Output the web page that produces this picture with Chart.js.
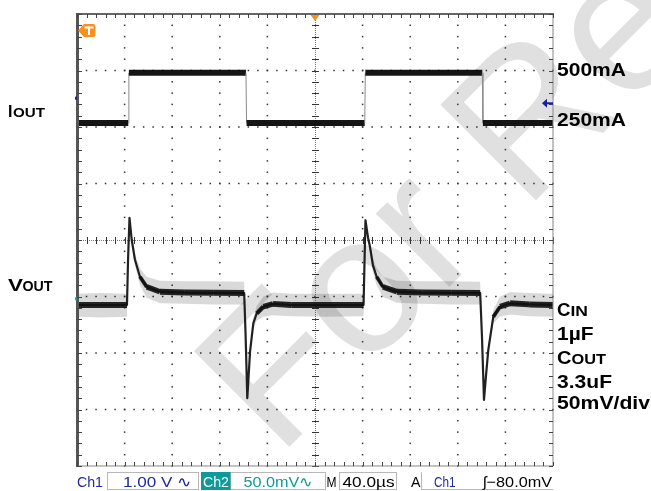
<!DOCTYPE html>
<html><head><meta charset="utf-8">
<script src="https://cdn.jsdelivr.net/npm/chart.js@4/dist/chart.umd.min.js"></script>
<style>html,body{margin:0;padding:0;background:#fff;overflow:hidden}canvas{display:block}</style>
</head><body>
<canvas id="c" width="651" height="491"></canvas>
<script>
// ---- data (time in µs, level in screen divisions from centre) ----
const iTime = [0, 43.1, 43.6, 142.0, 142.5, 241.8, 242.3, 340.6, 341.1, 400];
const iDiv  = [2.07, 2.07, 2.96, 2.96, 2.07, 2.07, 2.96, 2.96, 2.07, 2.07];

const vTime = [0, 20, 42.0, 42.9, 44.1, 46.0, 48.7, 52.9, 58.6, 69.7, 90, 115, 140.5, 141.7, 143.1, 144.1, 145.4, 148.2, 151.0, 156.6, 164.7, 180, 210,
               240.8, 241.6, 242.4, 244.5, 246.2, 248.7, 251.8, 257.1, 268.7, 290, 315, 338.8, 340.3, 342.0, 343.7, 345.6, 349.8, 355.5, 363.9, 380, 400];
const vDiv  = [-1.15, -1.15, -1.15, -0.35, 0.39, 0.0, -0.35, -0.65, -0.83, -0.915, -0.93, -0.935, -0.94, -1.7, -2.80, -2.45, -1.98, -1.47, -1.30, -1.18, -1.13, -1.15, -1.15,
               -1.15, -0.40, 0.35, 0.05, -0.12, -0.45, -0.65, -0.83, -0.915, -0.93, -0.935, -0.94, -1.7, -2.83, -2.4, -1.95, -1.36, -1.18, -1.12, -1.14, -1.15];
const vNoiseHi = [-0.95, -0.94, -0.95, -0.35, 0.39, 0.06, -0.25, -0.50, -0.65, -0.72, -0.73, -0.73, -0.74, -1.7, -2.80, -2.42, -1.92, -1.38, -1.17, -1.00, -0.93, -0.95, -0.95,
                  -0.95, -0.40, 0.35, 0.10, -0.04, -0.33, -0.50, -0.65, -0.72, -0.73, -0.73, -0.74, -1.7, -2.83, -2.36, -1.88, -1.24, -1.00, -0.92, -0.94, -0.95];
const vNoiseLo = [-1.36, -1.37, -1.36, -0.35, 0.39, -0.06, -0.45, -0.80, -1.02, -1.12, -1.13, -1.14, -1.14, -1.7, -2.80, -2.48, -2.04, -1.56, -1.43, -1.36, -1.33, -1.35, -1.36,
                  -1.35, -0.40, 0.35, 0.00, -0.20, -0.57, -0.80, -1.01, -1.11, -1.13, -1.14, -1.14, -1.7, -2.83, -2.44, -2.02, -1.48, -1.36, -1.32, -1.35, -1.36];

const ch1RefDiv = 2.42;   // Ch1 reference arrow
const ch1GndDiv = 2.51;   // Ch1 marker on left edge
const ch2GndDiv = -1.04;  // Ch2 marker on left edge

// ---- texts ----
const currentLabels = ['500mA', '250mA'];
const sideLabels = [['I', 'OUT'], ['V', 'OUT']];
const capLabels = [['C', 'IN'], ['1\u00B5F', ''], ['C', 'OUT'], ['3.3uF', ''], ['50mV/div', '']];
const statusTexts = ['Ch1', '1.00 V \u223F', 'Ch2', '50.0mV\u223F', 'M', '40.0\u00B5s', 'A', 'Ch1', '\u0283\u221280.0mV'];
const watermark = 'For Reference';

const pts = (xs, ys) => xs.map((t, k) => ({x: t, y: ys[k]}));

function fitText(ctx, s, x, y, font, color, w) {
  ctx.save();
  ctx.font = font; ctx.fillStyle = color; ctx.textBaseline = 'alphabetic'; ctx.textAlign = 'left';
  const m = ctx.measureText(s).width;
  ctx.translate(x, y);
  if (w && m > 0) ctx.scale(w / m, 1);
  ctx.fillText(s, 0, 0);
  ctx.restore();
}

const scopePlugin = {
  id: 'scope',
  beforeDraw(chart) {
    const ctx = chart.ctx;
    ctx.save();
    ctx.fillStyle = '#fff'; ctx.fillRect(0, 0, chart.width, chart.height);
    ctx.translate(278, 458); ctx.rotate(-Math.PI / 4);
    ctx.font = '196px "Liberation Sans", Arial, sans-serif';
    ctx.fillStyle = '#e0e0e0';
    ctx.fillText(watermark, 0, 0);
    ctx.restore();
  },
  beforeDatasetsDraw(chart) {
    const ctx = chart.ctx, xs = chart.scales.x, ys = chart.scales.y, a = chart.chartArea;
    const X = v => xs.getPixelForValue(v), Y = v => ys.getPixelForValue(v);
    ctx.save();
    ctx.fillStyle = '#333';
    for (let k = 1; k <= 9; k++) {
      if (k === 5) continue;
      const x = X(k * 40);
      for (let m = -20; m <= 20; m++) ctx.fillRect(x - 0.75, Y(m * 0.2) - 0.75, 1.5, 1.5);
    }
    for (let j = -3; j <= 3; j++) {
      if (j === 0) continue;
      const y = Y(j);
      for (let m = 0; m <= 50; m++) ctx.fillRect(X(m * 8) - 0.75, y - 0.75, 1.5, 1.5);
    }
    const cx = Math.round(X(200)), cy = Math.round(Y(0));
    ctx.fillStyle = '#777';
    for (let y = a.top; y <= a.bottom; y += 2) ctx.fillRect(cx, y, 1, 1);
    for (let x = a.left; x <= a.right; x += 2) ctx.fillRect(x, cy, 1, 1);
    ctx.fillStyle = '#333';
    for (let m = -20; m <= 20; m++) ctx.fillRect(cx - 3, Math.round(Y(m * 0.2)), 7, 1);
    for (let m = 0; m <= 50; m++) ctx.fillRect(Math.round(X(m * 8)), cy - 3, 1, 7);
    ctx.restore();
  },
  afterDatasetsDraw(chart) {
    const ctx = chart.ctx, xs = chart.scales.x, ys = chart.scales.y, a = chart.chartArea;
    const X = v => xs.getPixelForValue(v), Y = v => ys.getPixelForValue(v);
    ctx.save();
    ctx.fillStyle = '#666';
    ctx.fillRect(a.left, a.top - 1, a.right - a.left + 1, 2);
    ctx.fillStyle = '#555';
    ctx.fillRect(a.left - 1, a.top - 1, 3, a.bottom - a.top + 2);
    ctx.fillStyle = '#888';
    ctx.fillRect(a.right - 0.5, a.top, 1, a.bottom - a.top);
    ctx.fillRect(a.left, a.bottom - 0.5, a.right - a.left, 1);
    ctx.fillStyle = '#444';
    for (let m = 0; m <= 50; m++) {
      const x = Math.round(X(m * 8));
      ctx.fillRect(x, a.top, 1, 4);
      ctx.fillRect(x, a.bottom - 4, 1, 4);
    }
    for (let m = -20; m <= 20; m++) {
      const y = Math.round(Y(m * 0.2));
      ctx.fillRect(a.left, y, 5, 1);
      ctx.fillRect(a.right - 4, y, 4, 1);
    }
    const tx = X(200);
    ctx.fillStyle = '#f7901e';
    ctx.beginPath(); ctx.moveTo(tx - 4.5, a.top + 1); ctx.lineTo(tx + 4.5, a.top + 1); ctx.lineTo(tx, a.top + 7); ctx.closePath(); ctx.fill();
    ctx.beginPath();
    ctx.moveTo(a.left + 1, 30.5); ctx.lineTo(a.left + 7, 24); ctx.lineTo(a.left + 16, 24);
    ctx.quadraticCurveTo(a.left + 18.5, 24, a.left + 18.5, 26.5); ctx.lineTo(a.left + 18.5, 34.5);
    ctx.quadraticCurveTo(a.left + 18.5, 37, a.left + 16, 37); ctx.lineTo(a.left + 7, 37); ctx.closePath(); ctx.fill();
    ctx.fillStyle = '#fff';
    ctx.fillRect(a.left + 7.5, 26.5, 9, 2);
    ctx.fillRect(a.left + 11, 26.5, 2, 8.5);
    const ry = Y(ch1RefDiv);
    ctx.fillStyle = '#1b1f9a';
    ctx.beginPath(); ctx.moveTo(a.right - 11, ry); ctx.lineTo(a.right - 6, ry - 4.5); ctx.lineTo(a.right - 6, ry + 4.5); ctx.closePath(); ctx.fill();
    ctx.fillRect(a.right - 7, ry - 1, 7, 2);
    ctx.fillRect(a.left - 2, Y(ch1GndDiv) - 1.5, 2, 3);
    ctx.fillStyle = '#12a8a8';
    ctx.fillRect(a.left - 2, Y(ch2GndDiv) - 1.5, 2, 3);
    ctx.restore();

    const B = '"Liberation Sans", Arial, sans-serif';
    fitText(ctx, sideLabels[0][0], 8, 117, 'bold 16px ' + B, '#000');
    fitText(ctx, sideLabels[0][1], 13, 117, 'bold 13.5px ' + B, '#000', 32);
    fitText(ctx, sideLabels[1][0], 8, 290.5, 'bold 17px ' + B, '#000', 15);
    fitText(ctx, sideLabels[1][1], 22.5, 290.5, 'bold 14px ' + B, '#000', 30);
    fitText(ctx, currentLabels[0], 557, 76, 'bold 17.5px ' + B, '#000', 69);
    fitText(ctx, currentLabels[1], 557, 126, 'bold 17.5px ' + B, '#000', 69);
    const capY = [315.7, 339.5, 364, 388.3, 409.3];
    const capW = [[13.5, 17.5], [36.5, 0], [14.5, 34.5], [55, 0], [93, 0]];
    capLabels.forEach((p, k) => {
      fitText(ctx, p[0], 557, capY[k], 'bold 17.5px ' + B, '#000', capW[k][0]);
      if (p[1]) fitText(ctx, p[1], 557 + capW[k][0], capY[k], 'bold 14px ' + B, '#000', capW[k][1]);
    });

    const S = '15px "Liberation Sans", Arial, sans-serif';
    const blue = '#1d2b9e', teal = '#0e9a9a';
    ctx.save();
    ctx.strokeStyle = '#b8b8b8'; ctx.lineWidth = 1;
    ctx.strokeRect(107.5, 472.5, 91, 17);
    ctx.strokeRect(230.5, 472.5, 95, 17);
    ctx.strokeRect(339.5, 472.5, 57, 17);
    ctx.beginPath(); ctx.moveTo(421.5, 472); ctx.lineTo(421.5, 489.5); ctx.lineTo(553, 489.5); ctx.stroke();
    ctx.fillStyle = teal; ctx.fillRect(201, 472, 29.5, 18);
    ctx.restore();
    const base = 486.5;
    fitText(ctx, statusTexts[0], 77, base, S, blue, 26);
    fitText(ctx, statusTexts[1], 123, base, S, blue, 69);
    fitText(ctx, statusTexts[2], 203, base, S, '#ffffff', 26);
    fitText(ctx, statusTexts[3], 243.5, base, S, teal, 70);
    fitText(ctx, statusTexts[4], 326.5, base, S, '#000', 10);
    fitText(ctx, statusTexts[5], 342.5, base, S, '#000', 52);
    fitText(ctx, statusTexts[6], 411, base, S, '#000', 9.5);
    fitText(ctx, statusTexts[7], 434, base, S, blue, 21.5);
    fitText(ctx, statusTexts[8], 483, base, S, '#000', 69);
  }
};

const steep = c => Math.abs(c.p1.y - c.p0.y) / Math.max(0.01, Math.abs(c.p1.x - c.p0.x));

new Chart(document.getElementById('c'), {
  type: 'line',
  data: {
    datasets: [
      { // Ch1 current
        data: pts(iTime, iDiv), borderColor: 'rgba(8,8,8,0.95)', borderWidth: 6, pointRadius: 0,
        borderCapStyle: 'butt', fill: false, tension: 0,
        segment: {
          borderWidth: c => steep(c) > 3 ? 1 : 6,
          borderColor: c => steep(c) > 3 ? '#8c8c8c' : 'rgba(8,8,8,0.95)'
        }
      },
      { // Ch2 output voltage, dense core
        data: pts(vTime, vDiv), borderColor: 'rgba(15,15,15,0.9)', borderWidth: 6, pointRadius: 0,
        borderCapStyle: 'butt', borderJoinStyle: 'miter', fill: false, tension: 0,
        segment: {
          borderWidth: c => Math.max(2, 6 - 1.5 * steep(c)),
          borderColor: c => steep(c) > 2.6 ? 'rgba(0,0,0,0)' : 'rgba(15,15,15,0.9)'
        }
      },
      { // Ch2 output voltage, thin trace
        data: pts(vTime, vDiv), borderColor: 'rgba(15,15,15,0.92)', borderWidth: 2.2, pointRadius: 0,
        borderJoinStyle: 'round', fill: false, tension: 0
      },
      { // Ch2 noise band upper
        data: pts(vTime, vNoiseHi), borderWidth: 0, pointRadius: 0, fill: '+1',
        backgroundColor: 'rgba(0,0,0,0.15)', borderColor: 'rgba(0,0,0,0)', tension: 0
      },
      { // Ch2 noise band lower
        data: pts(vTime, vNoiseLo), borderWidth: 0, pointRadius: 0, fill: false,
        borderColor: 'rgba(0,0,0,0)', tension: 0
      }
    ]
  },
  options: {
    responsive: false, animation: false, devicePixelRatio: 1,
    layout: { padding: { left: 77, right: 98, top: 14, bottom: 25 } },
    scales: {
      x: { type: 'linear', min: 0, max: 400, display: false },
      y: { type: 'linear', min: -4, max: 4, display: false }
    },
    plugins: { legend: { display: false }, tooltip: { enabled: false } },
    events: []
  },
  plugins: [scopePlugin]
});
</script>
</body></html>
